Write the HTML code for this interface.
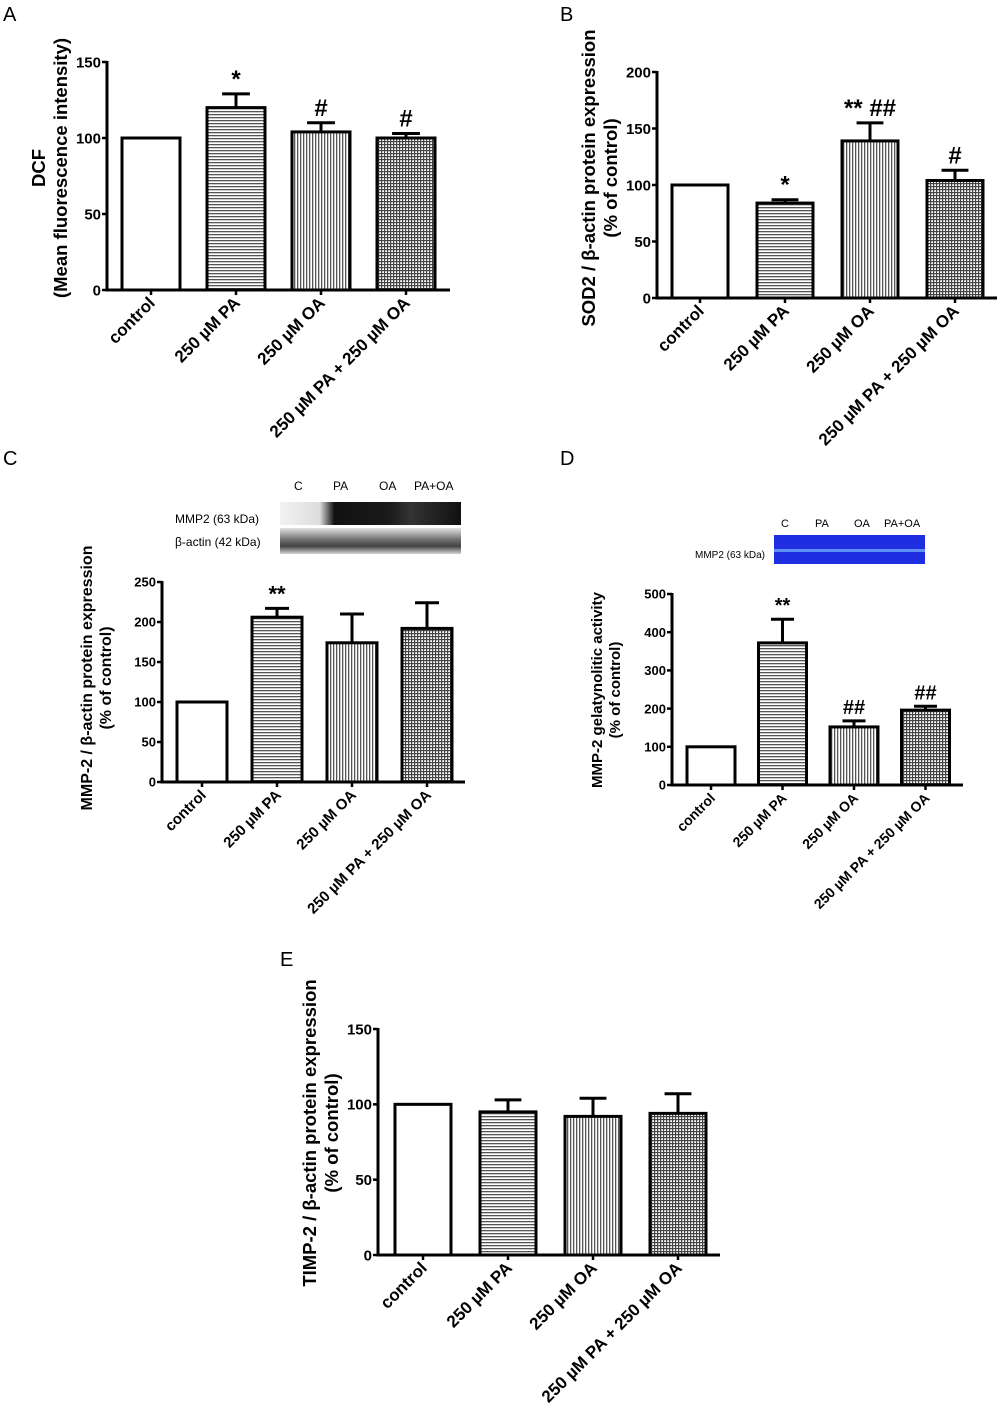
<!DOCTYPE html>
<html><head><meta charset="utf-8"><style>
body{margin:0;background:#fff;width:1000px;height:1413px;overflow:hidden}
svg{font-family:"Liberation Sans",Arial,sans-serif}
</style></head><body>
<svg id="s" width="1000" height="1413" viewBox="0 0 1000 1413">
<defs>
<pattern id="ph" width="4" height="3" patternUnits="userSpaceOnUse"><rect width="4" height="3" fill="#fff"/><rect y="0" width="4" height="1.3" fill="#555"/></pattern>
<pattern id="pv" width="3" height="4" patternUnits="userSpaceOnUse"><rect width="3" height="4" fill="#fff"/><rect x="0" width="1.3" height="4" fill="#555"/></pattern>
<pattern id="pg" width="3" height="3" patternUnits="userSpaceOnUse"><rect width="3" height="3" fill="#fff"/><rect width="3" height="1.2" fill="#444"/><rect width="1.2" height="3" fill="#444"/></pattern>
<linearGradient id="blot1" x1="0" x2="1"><stop offset="0" stop-color="#f2f2f2"/><stop offset="0.22" stop-color="#ddd"/><stop offset="0.3" stop-color="#111"/><stop offset="0.6" stop-color="#1a1a1a"/><stop offset="0.72" stop-color="#333"/><stop offset="1" stop-color="#111"/></linearGradient>
<linearGradient id="blot2" x1="0" y1="0" x2="0" y2="1"><stop offset="0" stop-color="#ddd"/><stop offset="0.45" stop-color="#555"/><stop offset="0.7" stop-color="#222"/><stop offset="1" stop-color="#ccc"/></linearGradient>
</defs>
<g font-size="20">
<text x="3" y="21">A</text><text x="560" y="21">B</text><text x="3" y="465">C</text><text x="560" y="465">D</text><text x="280" y="966">E</text>
</g>
<g font-size="12">
<text x="294" y="490">C</text><text x="333" y="490">PA</text><text x="379" y="490">OA</text><text x="414" y="490">PA+OA</text>
<text x="175" y="523">MMP2 (63 kDa)</text><text x="175" y="546">β-actin (42 kDa)</text>
<rect x="280" y="502" width="181" height="23" fill="url(#blot1)"/>
<rect x="280" y="528" width="181" height="26" fill="url(#blot2)" opacity="0.85"/>
</g>
<g font-size="11">
<text x="781" y="527">C</text><text x="815" y="527">PA</text><text x="854" y="527">OA</text><text x="884" y="527">PA+OA</text>
<text x="695" y="558" font-size="10">MMP2 (63 kDa)</text>
<rect x="774" y="535" width="151" height="29" fill="#1f2ee0"/>
<rect x="774" y="549" width="151" height="3" fill="#6fa8ff" opacity="0.8"/>
</g>
</svg>
<script>
const cats=["control","250 µM PA","250 µM OA","250 µM PA + 250 µM OA"];
const valsA=[100,120,104,100], errA=[0,9,6,3], sigA=["","*","#","#"];
const valsB=[100,84,139,104], errB=[0,3,16,9], sigB=["","*","** ##","#"];
const valsC=[100,206,174,192], errC=[0,11,36,32], sigC=["","**","",""];
const valsD=[100,372,152,196], errD=[0,62,16,10], sigD=["","**","##","##"];
const valsE=[100,95,92,94], errE=[0,8,12,13], sigE=["","","",""];
const ticksA=[0,50,100,150], ticksB=[0,50,100,150,200], ticksC=[0,50,100,150,200,250], ticksD=[0,100,200,300,400,500], ticksE=[0,50,100,150];
const fills=["#fff","url(#ph)","url(#pv)","url(#pg)"];
const S=document.getElementById('s');const NS="http://www.w3.org/2000/svg";
function mk(t,a,p){const e=document.createElementNS(NS,t);for(const k in a)e.setAttribute(k,a[k]);(p||S).appendChild(e);return e;}
function chart(o){
 const g=mk('g',{});
 
 
 const y=v=>o.y0-(v/o.max)*(o.y0-o.yTop);
 mk('line',{x1:o.ax,y1:o.yTop-1,x2:o.ax,y2:o.y0+1.5,stroke:'#000','stroke-width':3},g);
 mk('line',{x1:o.ax,y1:o.y0,x2:o.axEnd,y2:o.y0,stroke:'#000','stroke-width':3},g);
 o.ticks.forEach(t=>{
  mk('line',{x1:o.ax-5,y1:y(t),x2:o.ax,y2:y(t),stroke:'#000','stroke-width':2.5},g);
  const tx=mk('text',{x:o.ax-6,y:y(t)+o.tf*0.36,'text-anchor':'end','font-size':o.tf,'font-weight':'bold'},g);tx.textContent=t;
  
  
 });
 o.vals.forEach((v,i)=>{
  const x=o.b0+i*o.step, cx=x+o.bw/2;
  if(o.err[i]>0){mk('line',{x1:cx,y1:y(v),x2:cx,y2:y(v+o.err[i]),stroke:'#000','stroke-width':3},g);
   mk('line',{x1:cx-o.bw*0.24,y1:y(v+o.err[i]),x2:cx+o.bw*0.24,y2:y(v+o.err[i]),stroke:'#000','stroke-width':3},g);}
  const r=mk('rect',{x:x,y:y(v),width:o.bw,height:o.y0-y(v),fill:fills[i],stroke:'#000','stroke-width':3},g);
  
  
  mk('line',{x1:cx,y1:o.y0,x2:cx,y2:o.y0+5,stroke:'#000','stroke-width':2.5},g);
  const lb=mk('text',{transform:`translate(${cx+5},${o.y0+14}) rotate(-45)`,'text-anchor':'end','font-size':o.lf,'font-weight':'bold'},g);lb.textContent=cats[i];
  
  
  if(o.sig[i]){const s=mk('text',{x:cx,y:y(v+o.err[i])-7,'text-anchor':'middle','font-size':o.sf,'font-weight':'bold'},g);s.textContent=o.sig[i];
   
   }
 });
 const tt=mk('text',{transform:`translate(${o.tx},${o.tcy}) rotate(-90)`,'text-anchor':'middle','font-size':o.yf,'font-weight':'bold'},g);
 
 
 o.title.forEach((l,k)=>{const ts=mk('tspan',{x:0,dy:k?o.yf*1.2:0},tt);ts.textContent=l;});
}
chart({name:'chart-a-dcf',vals:valsA,err:errA,sig:sigA,ticks:ticksA,max:150,ax:107,axEnd:450,yTop:62,y0:290,b0:122,step:85,bw:58,tf:15,lf:17,sf:24,yf:18.5,tx:45,tcy:168,title:["DCF","(Mean fluorescence intensity)"]});
chart({name:'chart-b-sod2',vals:valsB,err:errB,sig:sigB,ticks:ticksB,max:200,ax:657,axEnd:997,yTop:72,y0:298,b0:672,step:85,bw:56,tf:15,lf:17,sf:24,yf:18.5,tx:595,tcy:178,title:["SOD2 / β-actin protein expression","(% of control)"]});
chart({name:'chart-c-mmp2',vals:valsC,err:errC,sig:sigC,ticks:ticksC,max:250,ax:162,axEnd:465,yTop:582,y0:782,b0:177,step:75,bw:50,tf:13,lf:15,sf:22,yf:16,tx:92,tcy:678,title:["MMP-2 / β-actin protein expression","(% of control)"]});
chart({name:'chart-d-gelatinolytic',vals:valsD,err:errD,sig:sigD,ticks:ticksD,max:500,ax:672,axEnd:963,yTop:594,y0:785,b0:687,step:71.5,bw:48,tf:13,lf:14,sf:20,yf:15,tx:602,tcy:690,title:["MMP-2 gelatynolitic activity","(% of control)"]});
chart({name:'chart-e-timp2',vals:valsE,err:errE,sig:sigE,ticks:ticksE,max:150,ax:378,axEnd:720,yTop:1029,y0:1255,b0:395,step:85,bw:56,tf:15,lf:17,sf:24,yf:18.5,tx:316,tcy:1133,title:["TIMP-2 / β-actin protein expression","(% of control)"]});
</script>
</body></html>
